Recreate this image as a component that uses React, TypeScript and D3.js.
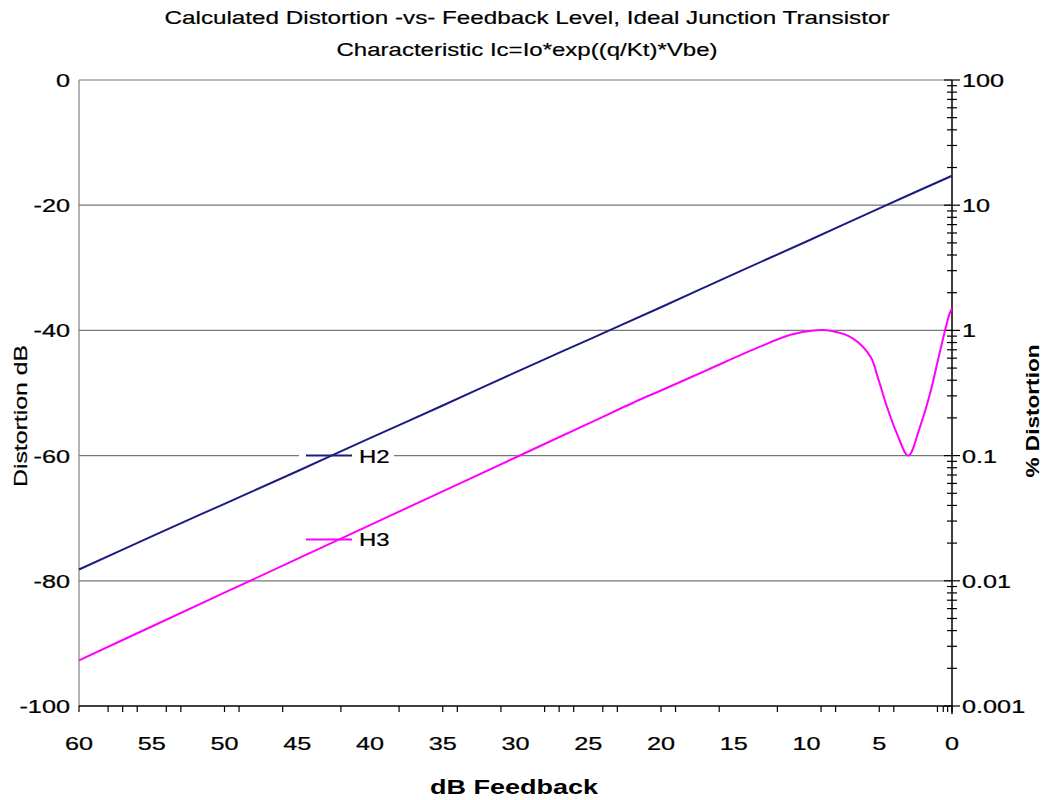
import React from "react";
import * as d3 from "d3";

const titleLines = [
  "Calculated Distortion -vs- Feedback Level, Ideal Junction Transistor",
  "Characteristic Ic=Io*exp((q/Kt)*Vbe)",
];
const xLabel = "dB Feedback";
const yLeftLabel = "Distortion dB";
const yRightLabel = "% Distortion";

const xTickValues = [60, 55, 50, 45, 40, 35, 30, 25, 20, 15, 10, 5, 0];
const xMinorTicks = [60, 58, 57, 56, 54, 53, 50, 49, 46, 42, 38, 35, 34, 31, 28, 27, 26, 24, 23, 20, 19, 16, 12, 9, 8, 5, 4, 1, 0.6, 0.3, 0];
const yLeftTicks = [0, -20, -40, -60, -80, -100];
const yGridTicks = [-20, -40, -60, -80];
const yRightTicks = [100, 10, 1, 0.1, 0.01, 0.001];
const yRightTickLabels = ["100", "10", "1", "0.1", "0.01", "0.001"];

const h2Feedback = [60, 55, 50, 45, 40, 35, 30, 25, 20, 15, 10, 5, 0];
const h2Db = [-78.2, -72.9, -67.7, -62.5, -57.2, -52.0, -46.7, -41.5, -36.3, -31.0, -25.8, -20.5, -15.3];

const h3Feedback = [60, 55, 50, 45, 40, 35, 30, 25, 21.4, 20, 16.8, 13.4, 11.1, 9.5, 8.25, 6.8, 5.6, 5.1, 4.5, 3.8, 3.0, 2.2, 1.5, 0.96, 0.5, 0.15, 0];
const h3Db = [-92.7, -87.3, -81.9, -76.5, -71.1, -65.7, -60.3, -54.9, -51.0, -49.6, -46.3, -42.8, -40.7, -40.0, -40.1, -41.3, -44.2, -47.5, -52.0, -56.4, -60.0, -55.4, -50.0, -44.7, -40.2, -37.2, -36.5];

const seriesNames = ["H2", "H3"];
const seriesColors = ["#1c1c80", "#ff00ff"];

const W = 1045;
const H = 800;
const left = 79;
const right = 952;
const top = 80;
const bottom = 706;
const FONT = "'Liberation Sans', Arial, sans-serif";
const SX = 1.33;

function Stretched({ x, y, anchor, size, weight, children }: any) {
  return (
    <text
      transform={`translate(${x},${y}) scale(${SX},1)`}
      textAnchor={anchor}
      fontSize={size}
      fontWeight={weight || "normal"}
      fontFamily={FONT}
      fill="#000"
      stroke="#000"
      strokeWidth={0.25}
    >
      {children}
    </text>
  );
}

export default function App() {
  const x = d3.scaleLinear().domain([60, 0]).range([left, right]);
  const y = d3.scaleLinear().domain([0, -100]).range([top, bottom]);
  const yR = d3.scaleLog().domain([100, 0.001]).range([top, bottom]);

  const line = d3
    .line<[number, number]>()
    .x((d) => x(d[0]))
    .y((d) => y(d[1]))
    .curve(d3.curveCatmullRom.alpha(0.5));

  const h2Data: [number, number][] = h2Feedback.map((f, i) => [f, h2Db[i]]);
  const h3Data: [number, number][] = h3Feedback.map((f, i) => [f, h3Db[i]]);

  const minorLog: number[] = [];
  for (let e = -3; e < 2; e++) {
    for (let m = 2; m <= 9; m++) minorLog.push(m * Math.pow(10, e));
  }

  const legendY = [y(-60), y(-73.4)];

  return (
    <svg width={W} height={H} style={{ display: "block", position: "absolute", left: 0, top: 0 }}>
      <rect x={0} y={0} width={W} height={H} fill="#fff" />
      {/* titles */}
      <text x={527} y={24} textAnchor="middle" fontSize={19} fontFamily={FONT} textLength={725} lengthAdjust="spacingAndGlyphs" stroke="#000" strokeWidth={0.2}>
        {titleLines[0]}
      </text>
      <text x={527} y={56} textAnchor="middle" fontSize={19} fontFamily={FONT} textLength={381} lengthAdjust="spacingAndGlyphs" stroke="#000" strokeWidth={0.2}>
        {titleLines[1]}
      </text>

      {/* gridlines */}
      {yGridTicks.map((t) => (
        <line key={t} x1={left} x2={right} y1={y(t)} y2={y(t)} stroke="#777" strokeWidth={1.3} />
      ))}
      <line x1={left} x2={right} y1={y(0)} y2={y(0)} stroke="#b8b8b8" strokeWidth={2} />

      {/* left axis */}
      <line x1={left} x2={left} y1={top} y2={bottom} stroke="#808080" strokeWidth={1.2} />
      {yLeftTicks.map((t) => (
        <Stretched key={t} x={70} y={y(t) + 7} anchor="end" size={19}>
          {String(t)}
        </Stretched>
      ))}
      <text
        transform={`translate(27,${416}) rotate(-90)`}
        textAnchor="middle"
        fontSize={19}
        fontFamily={FONT}
        textLength={142}
        lengthAdjust="spacingAndGlyphs"
        stroke="#000"
        strokeWidth={0.2}
      >
        {yLeftLabel}
      </text>

      {/* bottom axis */}
      <line x1={left} x2={right} y1={bottom} y2={bottom} stroke="#000" strokeWidth={1.5} />
      {xMinorTicks.map((t, i) => (
        <line key={i} x1={x(t)} x2={x(t)} y1={bottom} y2={bottom + 6} stroke="#000" strokeWidth={1.2} />
      ))}
      {xTickValues.map((t) => (
        <Stretched key={t} x={x(t)} y={750} anchor="middle" size={19}>
          {String(t)}
        </Stretched>
      ))}
      <text x={514} y={794} textAnchor="middle" fontSize={20} fontWeight="bold" fontFamily={FONT} textLength={168} lengthAdjust="spacingAndGlyphs">
        {xLabel}
      </text>

      {/* right axis */}
      <line x1={right} x2={right} y1={top} y2={bottom + 8} stroke="#000" strokeWidth={1.5} />
      {minorLog.map((t, i) => (
        <line key={i} x1={right - 5} x2={right + 5} y1={yR(t)} y2={yR(t)} stroke="#000" strokeWidth={1.2} />
      ))}
      {yRightTicks.map((t) => (
        <line key={t} x1={right - 8} x2={right + 8} y1={yR(t)} y2={yR(t)} stroke="#000" strokeWidth={1.2} />
      ))}
      {yRightTicks.map((t, i) => (
        <Stretched key={t} x={962} y={yR(t) + 7} anchor="start" size={19}>
          {yRightTickLabels[i]}
        </Stretched>
      ))}
      <text
        transform={`translate(1039,${411}) rotate(-90)`}
        textAnchor="middle"
        fontSize={19}
        fontWeight="bold"
        fontFamily={FONT}
        textLength={133}
        lengthAdjust="spacingAndGlyphs"
      >
        {yRightLabel}
      </text>

      {/* legend background */}
      <rect x={299} y={440} width={95} height={112} fill="#fff" />

      {/* series */}
      <path d={line(h2Data) || ""} fill="none" stroke={seriesColors[0]} strokeWidth={2} />
      <path d={line(h3Data) || ""} fill="none" stroke={seriesColors[1]} strokeWidth={2} />

      {/* legend */}
      {seriesNames.map((n, i) => (
        <g key={n}>
          <line x1={306} x2={352} y1={legendY[i]} y2={legendY[i]} stroke={seriesColors[i]} strokeWidth={2} />
          <Stretched x={359} y={legendY[i] + 7} anchor="start" size={18}>
            {n}
          </Stretched>
        </g>
      ))}
    </svg>
  );
}
